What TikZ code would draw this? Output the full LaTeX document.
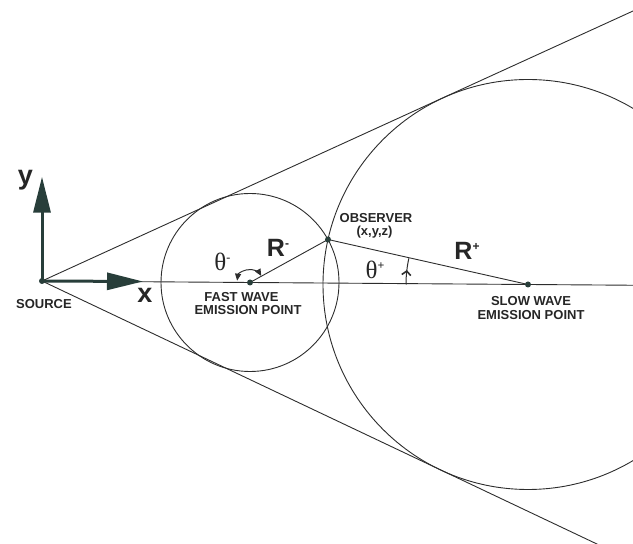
\documentclass[tikz,border=0pt]{standalone}
\usepackage{fontspec}
\setmainfont{Liberation Sans}
\newfontfamily\serifgr{Liberation Serif}
\usetikzlibrary{arrows.meta,calc,decorations.markings}
\definecolor{axcol}{RGB}{40,62,58}
\definecolor{linecol}{RGB}{45,45,45}
\begin{document}
\begin{tikzpicture}[x=1pt,y=1pt,
  thinline/.style={draw=linecol,line width=0.9pt},
  axisarrow/.style={draw=axcol,line width=3pt,-{Triangle[length=36pt,width=17pt]}},
  pt/.style={circle,fill=axcol,inner sep=0pt,minimum size=6pt},
  lbl/.style={font=\bfseries\fontsize{13}{14}\selectfont,text=black!85,inner sep=0pt},
  big/.style={font=\bfseries\fontsize{25}{27}\selectfont,text=black!85,inner sep=0pt},
  axlbl/.style={font=\bfseries\fontsize{27}{29}\selectfont,text=black!85,inner sep=0pt},
  greek/.style={font=\serifgr\fontsize{25}{27}\selectfont,text=black!85,inner sep=0pt},
  angarrow/.style={draw=linecol,line width=1pt}]
\useasboundingbox (0,0) rectangle (633,544);
\coordinate (S) at (42,263);
\coordinate (F) at (250,261.5);
\coordinate (P) at (528,259.5);
\coordinate (O) at (328,304.5);
\coordinate (U) at (679,554);
\coordinate (L) at (675,-37);
\coordinate (E) at (640,258.7);
\coordinate (ytip) at (42,367.3);
\coordinate (xtip) at (143,262.5);
\begin{scope}
\clip (0,0) rectangle (633,544);
\draw[thinline] (S) -- (U);
\draw[thinline] (S) -- (L);
\draw[thinline] (S) -- (E);
\draw[thinline] (F) circle (89pt);
\draw[thinline] (P) circle (205pt);
\draw[thinline] (F) -- (O) -- (P);
\end{scope}
% angle arcs
\draw[angarrow,{Triangle[length=7pt,width=6pt]}-{Triangle[length=7pt,width=6pt]}]
  ($(F)+(172:13)$) arc[start angle=172, end angle=30, radius=13];
\draw[angarrow,decoration={markings,mark=at position 0.55 with {\arrow{Straight Barb[length=4pt,width=9pt,line width=1.6pt]}}},postaction={decorate}]
  ($(P)+(180:122)$) arc[start angle=180, end angle=167.6, radius=122];
% axes
\draw[axisarrow] (S) -- (ytip);
\draw[axisarrow] (S) -- (xtip);
% points
\node[pt] (s) at (S) {};
\node[pt] (f) at (F) {};
\node[pt] (p) at (P) {};
\node[pt] (o) at (O) {};
% labels
\node[axlbl] (ylab) at (25.5,364) {y};
\node[axlbl] (xlab) at (145,249) {x};
\node[lbl] (src) at (44,240) {SOURCE};
\node[lbl] (fw1) at (241.5,247.3) {FAST WAVE};
\node[lbl] (fw2) at (248,233.5) {EMISSION POINT};
\node[lbl] (ob1) at (376,326) {OBSERVER};
\node[lbl] (ob2) at (374.6,312.2) {(x,y,z)};
\node[lbl] (sw1) at (531,243) {SLOW WAVE};
\node[lbl] (sw2) at (531,229) {EMISSION POINT};
\node[big] (rm) at (278,296) {R\raisebox{9pt}{\fontsize{12}{12}\selectfont -}};
\node[big] (rp) at (467,293.5) {R\raisebox{9pt}{\fontsize{12}{12}\selectfont +}};
\node[greek] (tm) at (222.4,282) {θ\raisebox{9pt}{\bfseries\fontsize{12}{12}\selectfont -}};
\node[greek] (tp) at (375,274.5) {θ\raisebox{9pt}{\bfseries\fontsize{12}{12}\selectfont +}};
\end{tikzpicture}
\end{document}
